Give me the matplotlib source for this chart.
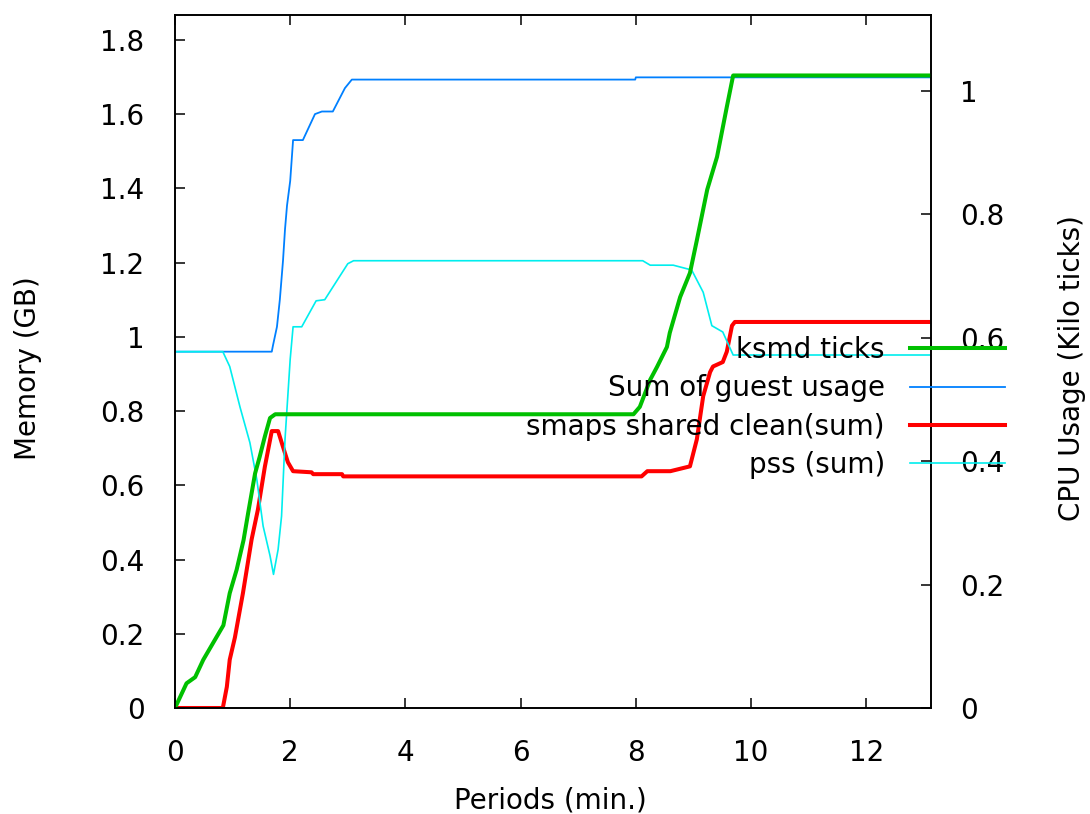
import matplotlib
matplotlib.use('Agg')
import matplotlib.pyplot as plt

plt.rcParams['font.family'] = 'DejaVu Sans'

# ksmd ticks (right axis, kilo ticks)
ksmd_x = [0, 0.2, 0.35, 0.49, 0.69, 0.84, 0.95, 1.07, 1.19, 1.27, 1.39, 1.47, 1.56, 1.65, 1.74,
          7.96, 8.07, 8.25, 8.37, 8.54, 8.59, 8.77, 8.94, 9.06, 9.24, 9.41, 9.58, 9.69, 13.125]
ksmd_y = [0, 0.04, 0.05, 0.078, 0.11, 0.134, 0.186, 0.224, 0.272, 0.316, 0.38, 0.407, 0.44, 0.47, 0.476,
          0.476, 0.488, 0.532, 0.553, 0.585, 0.608, 0.666, 0.705, 0.758, 0.84, 0.893, 0.974, 1.025, 1.025]

# sum of guest usage (GB)
guest_x = [0, 1.68, 1.70, 1.77, 1.82, 1.875, 1.91, 1.945, 2.0, 2.05, 2.22, 2.43, 2.55, 2.74, 2.95, 3.07,
           7.99, 8.0, 13.125]
guest_y = [0.96, 0.96, 0.976, 1.027, 1.10, 1.205, 1.29, 1.354, 1.42, 1.53, 1.53, 1.60, 1.607, 1.607, 1.67, 1.693,
           1.693, 1.699, 1.699]

# smaps shared clean (GB)
smaps_x = [0, 0.83, 0.9, 0.95, 1.04, 1.18, 1.33, 1.44, 1.56, 1.68, 1.79, 1.87, 1.96, 2.05, 2.37, 2.4, 2.9, 2.92,
           8.1, 8.2, 8.6, 8.94, 9.06, 9.17, 9.29, 9.34, 9.51, 9.58, 9.67, 9.72, 13.125]
smaps_y = [0, 0, 0.057, 0.13, 0.19, 0.31, 0.454, 0.535, 0.65, 0.746, 0.746, 0.706, 0.662, 0.638, 0.635, 0.63, 0.63, 0.624,
           0.624, 0.638, 0.638, 0.651, 0.724, 0.84, 0.905, 0.92, 0.932, 0.96, 1.03, 1.04, 1.04]

# pss (GB)
pss_x = [0, 0.83, 0.95, 1.13, 1.3, 1.42, 1.53, 1.65, 1.71, 1.79, 1.85, 1.91, 2.0, 2.05, 2.2, 2.45, 2.6, 3.0, 3.1,
         8.12, 8.25, 8.65, 8.97, 9.17, 9.32, 9.51, 9.69, 13.125]
pss_y = [0.96, 0.96, 0.92, 0.81, 0.715, 0.616, 0.49, 0.41, 0.36, 0.427, 0.517, 0.724, 0.94, 1.027, 1.027, 1.097, 1.10, 1.197, 1.205,
         1.205, 1.193, 1.193, 1.18, 1.12, 1.03, 1.013, 0.951, 0.951]

W, H = 1090, 814
fs = 20
fig = plt.figure(figsize=(W / 100, H / 100), dpi=100)
ax = fig.add_axes([175 / W, 1 - 708 / H, 756 / W, 693 / H])
ax2 = ax.twinx()

l_guest, = ax.plot(guest_x, guest_y, color='#0080ff', lw=1.3)
l_smaps, = ax.plot(smaps_x, smaps_y, color='#ff0000', lw=2.9)
l_pss, = ax.plot(pss_x, pss_y, color='#00eeee', lw=1.2)
l_ksmd, = ax2.plot(ksmd_x, ksmd_y, color='#00c000', lw=2.9)

ax.set_xlim(0, 13.125)
ax.set_ylim(0, 1.867)
ax2.set_ylim(0, 1.123)
ax.set_xticks([0, 2, 4, 6, 8, 10, 12])
ax.set_yticks([0, 0.2, 0.4, 0.6, 0.8, 1.0, 1.2, 1.4, 1.6, 1.8])
ax.set_yticklabels(['0', '0.2', '0.4', '0.6', '0.8', '1', '1.2', '1.4', '1.6', '1.8'])
ax2.set_yticks([0, 0.2, 0.4, 0.6, 0.8, 1.0])
ax2.set_yticklabels(['0', '0.2', '0.4', '0.6', '0.8', '1'])

ax.tick_params(axis='x', direction='in', top=True, length=7, width=1.1, pad=22, labelsize=fs)
ax.tick_params(axis='y', direction='in', right=False, length=7, width=1.1, pad=22, labelsize=fs)
ax2.tick_params(axis='y', direction='in', length=7, width=1.1, pad=21, labelsize=fs)
for a in (ax, ax2):
    for s in a.spines.values():
        s.set_linewidth(1.2)

fig.text(28 / W, 1 - 368 / H, 'Memory (GB)', rotation=90, ha='center', va='center', fontsize=fs)
fig.text(1072 / W, 1 - 368 / H, 'CPU Usage (Kilo ticks)', rotation=90, ha='center', va='center', fontsize=fs)
fig.text(550 / W, 1 - 800 / H, 'Periods (min.)', ha='center', va='center', fontsize=fs)

ax2.legend([l_ksmd, l_guest, l_smaps, l_pss],
           ['ksmd ticks', 'Sum of guest usage', 'smaps shared clean(sum)', 'pss (sum)'],
           loc='upper right', bbox_to_anchor=(1005 / W, 1 - 336 / H), bbox_transform=fig.transFigure,
           markerfirst=False, frameon=False, fontsize=fs, borderpad=0, borderaxespad=0,
           handlelength=3.42, handletextpad=0.9, labelspacing=0.37)

fig.savefig('out.png', dpi=100)
